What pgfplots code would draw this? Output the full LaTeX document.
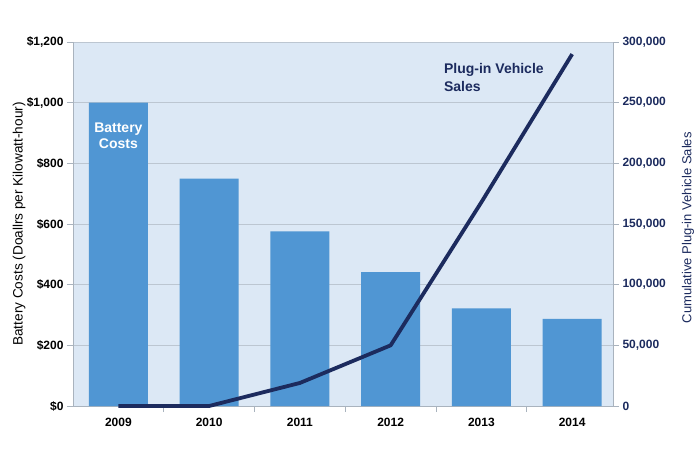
\documentclass[border=0pt]{standalone}
\usepackage{pgfplots}
\pgfplotsset{compat=1.18}
\usepackage{fontspec}
\setmainfont{Liberation Sans}
\definecolor{bgblue}{HTML}{DCE8F5}
\definecolor{barblue}{HTML}{5096D3}
\definecolor{navy}{HTML}{1C2B5E}
\definecolor{gridc}{HTML}{BCC6D1}
\definecolor{axisc}{HTML}{A9B3BE}
\begin{document}
\begin{tikzpicture}
\useasboundingbox (-73pt,-61pt) rectangle (627pt,406pt);
\begin{axis}[
  at={(0pt,0pt)}, anchor=south west,
  scale only axis, width=540pt, height=364pt,
  xmin=-0.5, xmax=5.45, ymin=0, ymax=1200,
  axis background/.style={fill=bgblue},
  axis y line*=left, axis x line*=bottom,
  axis line style={axisc, line width=0.8pt},
  every tick/.style={axisc, line width=0.8pt},
  tick align=outside, major tick length=6pt, minor tick length=6pt,
  ytick={0,200,...,1200},
  yticklabels={\$0,\$200,\$400,\$600,\$800,{\$1,000},{\$1,200}},
  xtick={0,...,5}, xticklabels={2009,2010,2011,2012,2013,2014},
  major x tick style={draw=none},
  minor xtick={0.5,1.5,2.5,3.5,4.5},
  ymajorgrids, grid style={gridc, line width=0.8pt},
  ticklabel style={font=\bfseries\fontsize{12}{14}\selectfont},
  xticklabel style={yshift=-3pt},
  ylabel={Battery Costs (Doallrs per Kilowatt-hour)},
  every axis y label/.style={at={(axis description cs:-0.1,0.5)}, rotate=90, anchor=center, font=\fontsize{13.6}{16}\selectfont},
  clip=false,
]
\addplot[ybar, bar width=59pt, fill=barblue, draw=none] coordinates {
  (0,1000) (1,750) (2,576) (3,441) (4,322) (5,287)
};
\node[text=white, font=\bfseries\fontsize{14}{16}\selectfont, align=center] at (axis cs:0,892) {Battery\\Costs};
\end{axis}
\begin{axis}[
  at={(0pt,0pt)}, anchor=south west,
  scale only axis, width=540pt, height=364pt,
  xmin=-0.5, xmax=5.45, ymin=0, ymax=300000,
  axis y line*=right, axis x line=none,
  axis line style={axisc, line width=0.8pt},
  every tick/.style={axisc, line width=0.8pt},
  tick align=outside, major tick length=6pt,
  ytick={0,50000,...,300000},
  yticklabels={0,{50,000},{100,000},{150,000},{200,000},{250,000},{300,000}},
  ticklabel style={font=\bfseries\fontsize{12}{14}\selectfont, text=navy},
  scaled y ticks=false,
  ylabel={Cumulative Plug-in Vehicle Sales},
  every axis y label/.style={at={(axis description cs:1.139,0.49)}, rotate=90, anchor=center, font=\fontsize{13}{15}\selectfont, text=navy},
  clip=false,
]
\addplot[navy, line width=3.8pt, line join=round] coordinates {
  (0,0) (1,0) (2,19000) (3,50000) (4,168000) (5,290000)
};
\node[text=navy, font=\bfseries\fontsize{14}{18}\selectfont, align=left, anchor=west] at (axis cs:3.55,271000) {Plug-in Vehicle\\Sales};
\end{axis}
\end{tikzpicture}
\end{document}
